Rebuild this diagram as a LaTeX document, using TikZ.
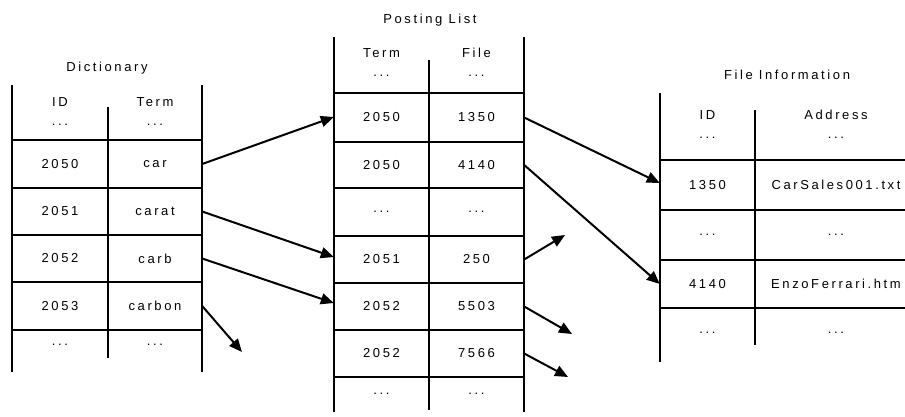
\documentclass[tikz,border=0pt]{standalone}
\usepackage{fontspec}
\setmainfont{Liberation Sans}[LetterSpace=20]
\usetikzlibrary{arrows.meta}
\begin{document}
\begin{tikzpicture}[x=1pt,y=-1pt,
  grid/.style={line width=2pt},
  lbl/.style={font=\fontsize{13}{15}\selectfont, inner sep=0pt},
  cell/.style={lbl, minimum height=46pt, minimum width=95pt},
  link/.style={line width=2pt, -{Triangle[length=13pt,width=11pt]}}]
\useasboundingbox (0,0) rectangle (905,416);

% ---------------- Dictionary ----------------
\node[lbl] (dtitle) at (107,68) {Dictionary};
\draw[grid] (12,85) -- (12,372) (202,85) -- (202,372) (108,107) -- (108,358);
\foreach \y in {140,188,235,282,330} \draw[grid] (12,\y) -- (202,\y);
\node[lbl] (dhid)    at (60,102)  {ID};
\node[lbl] (dhidd)   at (60,125)  {...};
\node[lbl] (dhterm)  at (155,102) {Term};
\node[lbl] (dhtermd) at (155,125) {...};
\node[cell, minimum width=96pt] (d2050) at (60,164)   {2050};
\node[cell, minimum width=94pt] (dcar)  at (155,164)  {car};
\node[cell, minimum width=96pt] (d2051) at (60,211.5) {2051};
\node[cell, minimum width=94pt] (dcarat) at (155,211.5) {carat};
\node[cell, minimum width=96pt] (d2052) at (60,258.5) {2052};
\node[cell, minimum width=94pt] (dcarb)  at (155,258.5) {carb};
\node[cell, minimum width=96pt] (d2053) at (60,306)   {2053};
\node[cell, minimum width=94pt] (dcarbon) at (155,306) {carbon};
\node[lbl] (dmoreid)   at (60,345)  {...};
\node[lbl] (dmoreterm) at (155,345) {...};

% ---------------- Posting List ----------------
\node[lbl] (ptitle) at (430,20) {Posting List};
\draw[grid] (334,37) -- (334,412) (524,37) -- (524,412) (429,60) -- (429,410);
\foreach \y in {93,142,188,236,283,330,377} \draw[grid] (334,\y) -- (524,\y);
\node[lbl] (phterm)  at (381.5,53) {Term};
\node[lbl] (phtermd) at (381.5,76) {...};
\node[lbl] (phfile)  at (476.5,53) {File};
\node[lbl] (phfiled) at (476.5,76) {...};
\node[cell] (p2050a) at (381.5,117.5) {2050};
\node[cell] (p1350)  at (476.5,117.5) {1350};
\node[cell] (p2050b) at (381.5,165)   {2050};
\node[cell] (p4140)  at (476.5,165)   {4140};
\node[lbl]  (pgapt)  at (381.5,212)   {...};
\node[lbl]  (pgapf)  at (476.5,212)   {...};
\node[cell] (p2051)  at (381.5,259.5) {2051};
\node[cell] (p250)   at (476.5,259.5) {250};
\node[cell] (p2052a) at (381.5,306.5) {2052};
\node[cell] (p5503)  at (476.5,306.5) {5503};
\node[cell] (p2052b) at (381.5,353.5) {2052};
\node[cell] (p7566)  at (476.5,353.5) {7566};
\node[lbl]  (pmoret) at (381.5,394)   {...};
\node[lbl]  (pmoref) at (476.5,394)   {...};

% ---------------- File Information ----------------
\node[lbl] (ftitle) at (787,75) {File Information};
\draw[grid] (660,93) -- (660,362) (755,110) -- (755,345);
\foreach \y in {160,210,260,308} \draw[grid] (660,\y) -- (905,\y);
\node[lbl] (fhid)    at (707.5,115) {ID};
\node[lbl] (fhidd)   at (707.5,138) {...};
\node[lbl] (fhaddr)  at (836,115)   {Address};
\node[lbl] (fhaddrd) at (836,138)   {...};
\node[cell] (i1350)  at (707.5,185) {1350};
\node[lbl]  (a1350)  at (836,185)   {CarSales001.txt};
\node[lbl]  (igap1)  at (707.5,235) {...};
\node[lbl]  (agap1)  at (836,235)   {...};
\node[cell] (i4140)  at (707.5,284) {4140};
\node[lbl]  (a4140)  at (836,284)   {EnzoFerrari.htm};
\node[lbl]  (igap2)  at (707.5,333) {...};
\node[lbl]  (agap2)  at (836,333)   {...};

% ---------------- Links ----------------
\coordinate (carbonend) at (242,352);
\coordinate (end250)    at (565,235);
\coordinate (end5503)   at (572,334);
\coordinate (end7566)   at (568,377);
\draw[link] (dcar.east)    -- ([yshift=0.5pt]p2050a.west);
\draw[link] (dcarat.east)  -- ([yshift=2.5pt]p2051.west);
\draw[link] (dcarb.east)   -- ([yshift=3.5pt]p2052a.west);
\draw[link] (dcarbon.east) -- (carbonend);
\draw[link] (p1350.east)   -- ([yshift=2pt]i1350.west);
\draw[link] (p4140.east)   -- (i4140.west);
\draw[link] (p250.east)    -- (end250);
\draw[link] (p5503.east)   -- (end5503);
\draw[link] (p7566.east)   -- (end7566);
\end{tikzpicture}
\end{document}
